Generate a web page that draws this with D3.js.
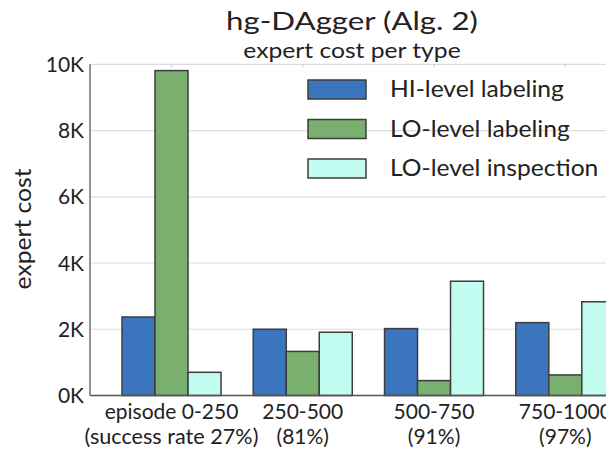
<!DOCTYPE html>
<html>
<head>
  <meta charset='utf-8' />
  <title>hg-DAgger expert cost</title>
  <style>
    html, body { margin: 0; padding: 0; background: #fff; }
    body { font-family: Lato, 'Open Sans', sans-serif; }
    svg { display: block; }
    .grid line { stroke: #dcdcdc; stroke-width: 1.2; }
    .bar { stroke: #3c3c3c; stroke-width: 1.5; }
    .txt { fill: #222; }
  </style>
</head>
<body>
<div id='chart'></div>
<script src="https://d3js.org/d3.v7.min.js"></script>
<script>
  // groups on the x axis (two text lines each)
  const groups = ['g1', 'g2', 'g3', 'g4']
  const groupLine1 = ['episode 0-250', '250-500', '500-750', '750-1000']
  const groupLine2 = ['(success rate 27%)', '(81%)', '(91%)', '(97%)']

  const seriesNames = ['HI-level labeling', 'LO-level labeling', 'LO-level inspection']
  const seriesColors = ['#3a75bd', '#79b070', '#c2fcf1']

  // expert cost values per series, one per group
  const hiLabeling = [2370, 2000, 2020, 2200]
  const loLabeling = [9810, 1330, 450, 620]
  const loInspection = [700, 1910, 3450, 2830]
  const seriesValues = [hiLabeling, loLabeling, loInspection]

  const yTicks = [0, 2000, 4000, 6000, 8000, 10000]

  const W = 606, H = 453
  const plot = { left: 90, top: 64.3, bottom: 395.5, right: 640 }

  // the original font is wider than Lato, so widen some texts a little
  const stretch = (sel, k) => {
    sel.each(function () {
      const len = this.getComputedTextLength()
      d3.select(this)
        .attr('textLength', len * k)
        .attr('lengthAdjust', 'spacingAndGlyphs')
    })
  }

  const svg = d3.select('#chart').append('svg')
    .attr('width', W)
    .attr('height', H)

  const y = d3.scaleLinear()
    .domain([0, 10000])
    .range([plot.bottom, plot.top])

  // group centres
  const x = d3.scalePoint()
    .domain(groups)
    .range([171.5, 565.3])

  const xs = d3.scaleBand()
    .domain(d3.range(seriesNames.length))
    .range([-49.5, 49.5])

  // gridlines
  svg.append('g')
    .attr('class', 'grid')
    .selectAll('line')
    .data(yTicks.slice(1))
    .join('line')
    .attr('x1', plot.left)
    .attr('x2', plot.right)
    .attr('y1', d => y(d))
    .attr('y2', d => y(d))

  // small ticks along the top edge
  svg.append('g')
    .selectAll('line')
    .data(groups)
    .join('line')
    .attr('x1', d => x(d))
    .attr('x2', d => x(d))
    .attr('y1', plot.top)
    .attr('y2', plot.top + 3)
    .attr('stroke', '#cfcfcf')
    .attr('stroke-width', 1.2)

  // bars
  const rows = []
  seriesValues.forEach((vals, s) => {
    vals.forEach((v, i) => rows.push({ s, g: groups[i], v }))
  })

  svg.append('g')
    .selectAll('rect')
    .data(rows)
    .join('rect')
    .attr('class', 'bar')
    .attr('x', d => x(d.g) + xs(d.s))
    .attr('y', d => y(d.v))
    .attr('width', xs.bandwidth())
    .attr('height', d => y(0) - y(d.v))
    .attr('fill', d => seriesColors[d.s])

  // axis lines
  svg.append('line')
    .attr('x1', plot.left).attr('x2', plot.left)
    .attr('y1', plot.top).attr('y2', plot.bottom)
    .attr('stroke', '#777').attr('stroke-width', 1.6)
  svg.append('line')
    .attr('x1', plot.left).attr('x2', plot.right)
    .attr('y1', plot.bottom).attr('y2', plot.bottom)
    .attr('stroke', '#555').attr('stroke-width', 1.6)

  // y tick labels
  svg.append('g')
    .selectAll('text')
    .data(yTicks)
    .join('text')
    .attr('class', 'txt')
    .attr('x', plot.left - 6)
    .attr('y', d => y(d))
    .attr('dy', '0.36em')
    .attr('text-anchor', 'end')
    .style('font-size', '21px')
    .text(d => (d / 1000) + 'K')

  // x tick labels
  const xl = svg.append('g')
  xl.selectAll('text.l1')
    .data(groups)
    .join('text')
    .attr('class', 'txt l1')
    .attr('x', d => x(d))
    .attr('y', 419)
    .attr('text-anchor', 'middle')
    .style('font-size', '21px')
    .text((d, i) => groupLine1[i])
  xl.selectAll('text.l2')
    .data(groups)
    .join('text')
    .attr('class', 'txt l2')
    .attr('x', d => x(d))
    .attr('y', 444)
    .attr('text-anchor', 'middle')
    .style('font-size', '21px')
    .text((d, i) => groupLine2[i])
  stretch(xl.selectAll('text.l2').filter((d, i) => i === 0), 1.03)

  // y axis title
  svg.append('text')
    .attr('class', 'txt')
    .attr('transform', 'translate(31,229) rotate(-90)')
    .attr('text-anchor', 'middle')
    .style('font-size', '23px')
    .text('expert cost')
    .call(stretch, 1.07)

  // titles
  svg.append('text')
    .attr('class', 'txt')
    .attr('x', 352)
    .attr('y', 30)
    .attr('text-anchor', 'middle')
    .style('font-size', '25px')
    .text('hg-DAgger (Alg. 2)')
    .call(stretch, 1.25)
  svg.append('text')
    .attr('class', 'txt')
    .attr('x', 352)
    .attr('y', 58)
    .attr('text-anchor', 'middle')
    .style('font-size', '22px')
    .text('expert cost per type')
    .call(stretch, 1.12)

  // legend
  const lg = svg.append('g')
    .selectAll('g')
    .data(seriesNames)
    .join('g')
    .attr('transform', (d, i) => `translate(308,${80 + i * 39.5})`)
  lg.append('rect')
    .attr('class', 'bar')
    .attr('width', 58)
    .attr('height', 19)
    .attr('fill', (d, i) => seriesColors[i])
  lg.append('text')
    .attr('class', 'txt')
    .attr('x', 82)
    .attr('y', 17)
    .style('font-size', '23px')
    .text(d => d)
    .call(stretch, 1.07)
</script>
</body>
</html>
